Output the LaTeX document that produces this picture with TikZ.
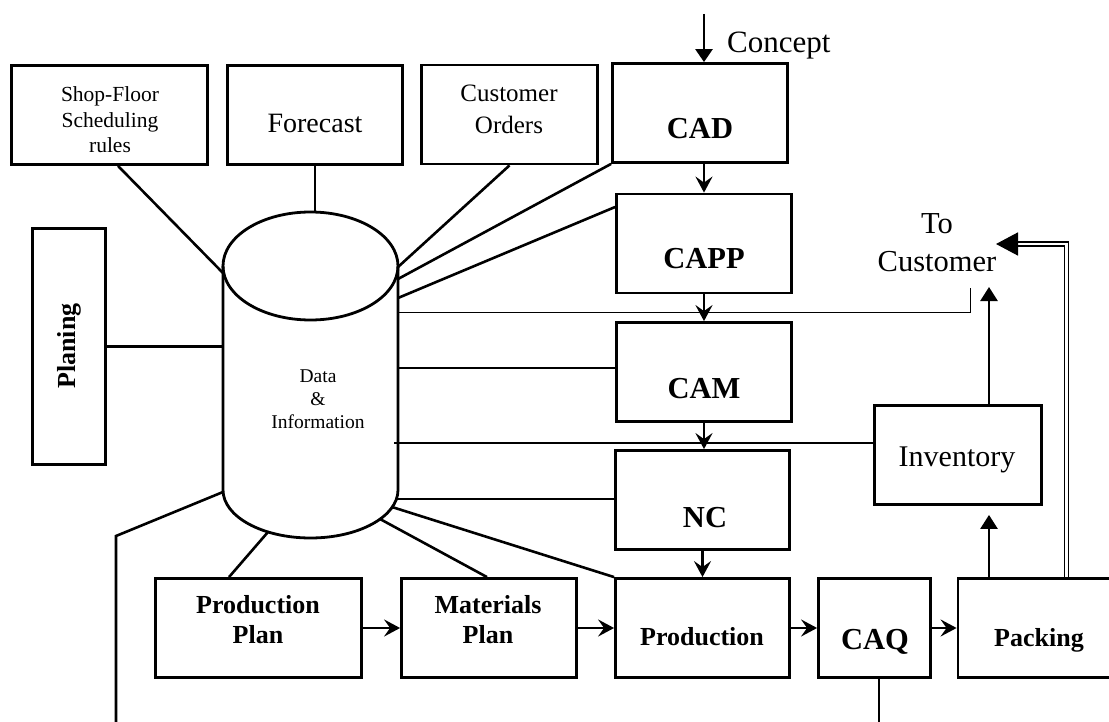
\documentclass[tikz,border=0pt]{standalone}
\usepackage{fontspec}
\setmainfont{Liberation Serif}
\usetikzlibrary{arrows.meta,calc}
\begin{document}
\begin{tikzpicture}[x=1pt,y=-1pt]
\tikzset{
  box/.style={draw, line width=2.8pt, inner sep=0pt, minimum height=99pt},
  link/.style={line width=2.6pt},
  thinlink/.style={line width=0.8pt},
  flow/.style={link, -{Stealth[length=16pt,width=17pt,inset=6pt]}},
  bigflow/.style={link, -{Triangle[length=14pt,width=17pt]}},
  dblflow/.style={line width=1.6pt, double, double distance=2.6pt, -{Triangle[length=22pt,width=23pt]}},
  txt/.style={inner sep=0pt, align=center},
  rm/.style={font=\fontsize{#1}{#1}\selectfont},
  bf/.style={font=\fontsize{#1}{#1}\selectfont\bfseries},
}
\clip (0,0) rectangle (1109,722);
\fill[white] (0,0) rectangle (1109,722);

% boxes
\node[box, minimum width=196pt] (shop) at (109.5,115) {};
\node[box, minimum width=175pt] (fore) at (315,115) {};
\node[box, minimum width=176pt] (orders) at (509.5,114.5) {};
\node[box, minimum width=175pt] (cad) at (700,113) {};
\node[box, minimum width=175pt] (capp) at (704,243.5) {};
\node[box, minimum width=175pt] (cam) at (704,372) {};
\node[box, minimum width=174pt] (nc) at (702.5,500) {};
\node[box, minimum width=174pt] (prod) at (702.5,628) {};
\node[box, minimum width=112pt] (caq) at (874.5,628) {};
\node[box, minimum width=162pt] (pack) at (1039,628) {};
\node[box, minimum width=167pt] (inv) at (958,455) {};
\node[box, minimum width=206pt] (pplan) at (258.5,628) {};
\node[box, minimum width=175pt] (mplan) at (489,628) {};
\node[box, minimum width=73pt, minimum height=236pt] (plan) at (69,346.5) {};

% database cylinder
\draw[line width=2.8pt] (310.5,266) ellipse [x radius=87.5, y radius=54];
\draw[line width=2.8pt] (223,266) -- (223,490)
  arc[start angle=180, end angle=0, x radius=87.5, y radius=48] -- (398,266);

% attachment points on the cylinder
\coordinate (d-shop) at (223,273);
\coordinate (d-fore) at (315,212);
\coordinate (d-orders) at (398,267);
\coordinate (d-cad) at (398,279);
\coordinate (d-capp) at (398,298);
\coordinate (d-cust) at (398,312);
\coordinate (d-cam) at (398,368);
\coordinate (d-inv) at (394,443);
\coordinate (d-nc) at (396,499);
\coordinate (d-prod) at (392,507);
\coordinate (d-mplan) at (380,519);
\coordinate (d-pplan) at (268,532);
\coordinate (d-out) at (223,492);
\coordinate (d-plan) at (223,346.5);

% free ends
\coordinate (out-bend) at (116,536);
\coordinate (out-end) at (116,740);
\coordinate (caq-out) at (879,740);
\coordinate (concept-in) at (704,14);
\coordinate (tocust-end) at (970,288);
\coordinate (tocust-tip) at (989,287);
\coordinate (pk) at (989,0);
\coordinate (dbl-top) at (1066.5,244);
\coordinate (dbl-tip) at (996,244);

% links to the database
\draw[link] ([xshift=8.5pt]shop.south) -- (d-shop);
\draw[link] (fore.south) -- (d-fore);
\draw[link] (orders.south) -- (d-orders);
\draw[link] (cad.south west) -- (d-cad);
\draw[link] ([yshift=36.5pt]capp.west) -- (d-capp);
\draw[thinlink] (d-cust) -| (tocust-end);
\draw[link] (d-cam) -- (d-cam -| cam.west);
\draw[link] (d-inv) -- (d-inv -| inv.west);
\draw[link] (d-nc) -- (d-nc -| nc.west);
\draw[link] (d-prod) -- (prod.north west);
\draw[link] (d-mplan) -- ([xshift=-2pt]mplan.north);
\draw[link] (d-pplan) -- ([xshift=-29.5pt]pplan.north);
\draw[link] (d-out) -- (out-bend) -- (out-end);
\draw[link] (plan.east) -- (d-plan);
\draw[link] ([xshift=4.5pt]caq.south) -- (caq-out);

% process flow
\draw[link, -{Triangle[length=13pt,width=17pt]}] (concept-in) -- (concept-in |- cad.north);
\draw[flow] (capp.north |- cad.south) -- (capp.north);
\draw[flow] (capp.south) -- (cam.north);
\draw[flow] (cam.south) -- (cam.south |- nc.north);
\draw[flow] (nc.south) -- (prod.north);
\draw[flow] (pplan.east) -- (mplan.west);
\draw[flow] (mplan.east) -- (prod.west);
\draw[flow] (prod.east) -- (caq.west);
\draw[flow] (caq.east) -- (pack.west);
\draw[bigflow, shorten >=9pt] (pk |- pack.north) -- (pk |- inv.south);
\draw[bigflow] (pk |- inv.north) -- (tocust-tip);
\draw[dblflow] (pack.north -| dbl-top) -- (dbl-top) -- (dbl-tip);

% texts
\node[txt, font=\fontsize{21.5}{25.5}\selectfont] (shoplabel) at (110,120) {Shop-Floor\\Scheduling\\rules};
\node[txt, anchor=base, rm=28] (forelabel) at (315,133) {Forecast};
\node[txt, font=\fontsize{25}{32}\selectfont] (orderslabel) at (509,109) {Customer\\Orders};
\node[txt, anchor=base, bf=30.5] (cadlabel) at (700,139) {CAD};
\node[txt, anchor=base, bf=30.5] (capplabel) at (704,269) {CAPP};
\node[txt, anchor=base, bf=30.5] (camlabel) at (704,398) {CAM};
\node[txt, anchor=base, bf=30.5] (nclabel) at (705,527) {NC};
\node[txt, anchor=base, bf=26] (prodlabel) at (702,645) {Production};
\node[txt, anchor=base, bf=30.5] (caqlabel) at (875,649) {CAQ};
\node[txt, anchor=base, bf=26] (packlabel) at (1039,646) {Packing};
\node[txt, anchor=base, rm=30] (invlabel) at (957,466) {Inventory};
\node[txt, font=\fontsize{26}{30}\selectfont\bfseries] (pplanlabel) at (258,620) {Production\\Plan};
\node[txt, font=\fontsize{26}{30}\selectfont\bfseries] (mplanlabel) at (488,620) {Materials\\Plan};
\node[txt, font=\fontsize{19.5}{23}\selectfont] (dblabel) at (318,399) {Data\\\&\\Information};
\node[txt, font=\fontsize{30.5}{38}\selectfont] (custlabel) at (937,243) {To\\Customer};
\node[txt, anchor=base west, rm=31] (conceptlabel) at (727,53) {Concept};
\node[txt, bf=26, rotate=90] (planlabel) at (69,346) {Planing};
\end{tikzpicture}
\end{document}
